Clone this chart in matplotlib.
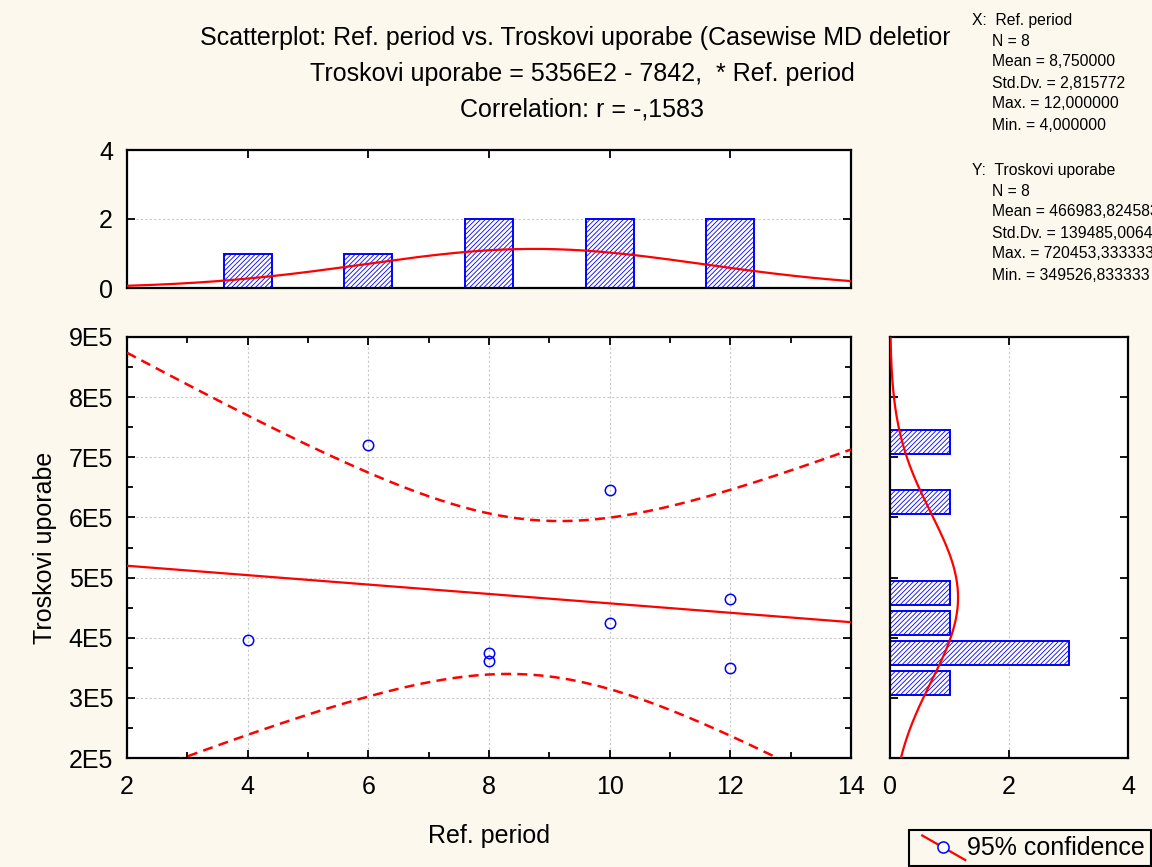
import numpy as np
import matplotlib
matplotlib.use("Agg")
import matplotlib.pyplot as plt
from matplotlib.ticker import FuncFormatter, MultipleLocator
from matplotlib.lines import Line2D
from matplotlib.legend_handler import HandlerBase
from matplotlib.patches import Rectangle

plt.rcParams["font.family"] = ["Liberation Sans", "DejaVu Sans"]
plt.rcParams["hatch.linewidth"] = 0.6

# data
ref_period = [4, 6, 8, 8, 10, 10, 12, 12]
troskovi = [396000, 720453, 374000, 362000, 645000, 424000, 464000, 349527]

x_bin_edges = np.arange(3.5, 13.0, 1.0)
y_bin_edges = np.arange(300000, 800000, 50000)

title_lines = [
    "Scatterplot: Ref. period vs. Troskovi uporabe (Casewise MD deletion)",
    "Troskovi uporabe = 5356E2 - 7842,  * Ref. period",
    "Correlation: r = -,1583",
]
stats_x = ["X:  Ref. period", "N = 8", "Mean = 8,750000", "Std.Dv. = 2,815772",
           "Max. = 12,000000", "Min. = 4,000000"]
stats_y = ["Y:  Troskovi uporabe", "N = 8", "Mean = 466983,824583",
           "Std.Dv. = 139485,006421", "Max. = 720453,333333", "Min. = 349526,833333"]

T_975_DF6 = 2.446912

BG = "#FCF8EE"
BLUE = "#0000FF"
RED = "#FF0000"
W, H = 1152, 867
FS = 18

x = np.array(ref_period, dtype=float)
y = np.array(troskovi, dtype=float)
n = len(x)


def box(l, t, r, b):
    return [l / W, 1 - b / H, (r - l) / W, (b - t) / H]


def style_frame(a):
    for s in a.spines.values():
        s.set_linewidth(1.6)
    a.tick_params(which="both", direction="in", top=True, right=True,
                  width=1.3, labelsize=FS)
    a.tick_params(which="major", length=6)
    a.tick_params(which="minor", length=4)


fig = plt.figure(figsize=(W / 100, H / 100), dpi=100, facecolor=BG)

# ---- main scatter ----
ax = fig.add_axes(box(127, 337, 851, 758))
style_frame(ax)
ax.set_xlim(2, 14)
ax.set_ylim(200000, 900000)
ax.xaxis.set_major_locator(MultipleLocator(2))
ax.xaxis.set_minor_locator(MultipleLocator(1))
ax.yaxis.set_major_locator(MultipleLocator(100000))
ax.yaxis.set_minor_locator(MultipleLocator(50000))
ax.yaxis.set_major_formatter(FuncFormatter(lambda v, p: f"{v / 1e5:.0f}E5"))
ax.tick_params(axis="x", pad=12)
ax.tick_params(axis="y", pad=10)
ax.grid(True, which="major", color="#C8C8C8", linestyle=(0, (2, 2)), linewidth=0.8)
ax.set_axisbelow(True)

slope, intercept = np.polyfit(x, y, 1)
xs = np.linspace(2, 14, 200)
fit = intercept + slope * xs
resid = y - (intercept + slope * x)
s = np.sqrt(np.sum(resid ** 2) / (n - 2))
sxx = np.sum((x - x.mean()) ** 2)
half = T_975_DF6 * s * np.sqrt(1 / n + (xs - x.mean()) ** 2 / sxx)

ax.plot(xs, fit, color=RED, lw=1.6, zorder=3)
ax.plot(xs, fit + half, color=RED, lw=1.8, ls=(0, (4, 2.5)), zorder=3)
ax.plot(xs, fit - half, color=RED, lw=1.8, ls=(0, (4, 2.5)), zorder=3)
ax.plot(x, y, ls="none", marker="o", ms=7.5, mfc="none", mec=BLUE, mew=1.1, zorder=4)

ax.set_xlabel("Ref. period", fontsize=FS, labelpad=18)
ax.set_ylabel("Troskovi uporabe", fontsize=FS, labelpad=8)

# ---- top histogram (X) ----
axt = fig.add_axes(box(127, 150, 851, 288))
style_frame(axt)
cx, _ = np.histogram(x, bins=x_bin_edges)
xc = (x_bin_edges[:-1] + x_bin_edges[1:]) / 2
axt.bar(xc, cx, width=0.8, facecolor="white", edgecolor=BLUE, hatch="///////",
        linewidth=1.4, zorder=2)
axt.set_xlim(2, 14)
axt.set_ylim(0, 4)
axt.set_xticks([4, 6, 8, 10, 12])
axt.set_yticks([0, 2, 4])
axt.tick_params(axis="x", labelbottom=False)
axt.tick_params(axis="y", pad=10)
axt.grid(True, axis="y", color="#C8C8C8", linestyle=(0, (2, 2)), linewidth=0.8)
axt.set_axisbelow(True)
xn = np.linspace(2, 14, 200)
pdf_x = n * 1.0 * np.exp(-0.5 * ((xn - x.mean()) / x.std(ddof=1)) ** 2) / (x.std(ddof=1) * np.sqrt(2 * np.pi))
axt.plot(xn, pdf_x, color=RED, lw=1.6, zorder=3)

# ---- right histogram (Y) ----
axr = fig.add_axes(box(890, 337, 1128, 758))
style_frame(axr)
cy, _ = np.histogram(y, bins=y_bin_edges)
yc = (y_bin_edges[:-1] + y_bin_edges[1:]) / 2
axr.barh(yc, cy, height=40000, facecolor="white", edgecolor=BLUE, hatch="///////",
         linewidth=1.4, zorder=2)
axr.set_ylim(200000, 900000)
axr.set_xlim(0, 4)
axr.set_xticks([0, 2, 4])
axr.set_yticks(np.arange(300000, 900000, 100000))
axr.tick_params(axis="y", labelleft=False)
axr.tick_params(axis="x", pad=12)
axr.grid(True, axis="x", color="#C8C8C8", linestyle=(0, (2, 2)), linewidth=0.8)
axr.set_axisbelow(True)
yn = np.linspace(200000, 900000, 300)
bw = y_bin_edges[1] - y_bin_edges[0]
pdf_y = n * bw * np.exp(-0.5 * ((yn - y.mean()) / y.std(ddof=1)) ** 2) / (y.std(ddof=1) * np.sqrt(2 * np.pi))
axr.plot(pdf_y, yn, color=RED, lw=1.6, zorder=3)

# ---- titles ----
for i, t in enumerate(title_lines):
    fig.text(582 / W, 1 - (38 + 36 * i) / H, t, ha="center", va="center",
             fontsize=FS, zorder=1)

# cream panel that hides the end of the first title line
fig.add_artist(Rectangle((950 / W, 1 - 300 / H), 210 / W, 300 / H,
                         transform=fig.transFigure, facecolor=BG,
                         edgecolor="none", zorder=2))
for j, block in enumerate([stats_x, stats_y]):
    top = 20 + j * 150
    for i, t in enumerate(block):
        xx = 972 if i == 0 else 992
        fig.text(xx / W, 1 - (top + 21 * i) / H, t, ha="left", va="center",
                 fontsize=11.3, zorder=3)


# ---- legend ----
class DiagHandler(HandlerBase):
    def create_artists(self, legend, orig_handle, xdescent, ydescent,
                       width, height, fontsize, trans):
        x0, x1 = -xdescent + 0.14 * width, -xdescent + width
        y0, y1 = -ydescent - 0.3 * height, -ydescent + 1.1 * height
        ln = Line2D([x0, x1], [y1, y0], color=RED, lw=1.6, transform=trans)
        mk = Line2D([x0 + 0.48 * (x1 - x0)], [y1 - 0.48 * (y1 - y0)], ls="none",
                    marker="o", ms=8, mfc="white", mec=BLUE, mew=1.1,
                    transform=trans)
        return [ln, mk]


proxy = Line2D([], [])
leg = fig.legend([proxy], ["95% confidence"], handler_map={Line2D: DiagHandler()},
                 loc="lower left", bbox_to_anchor=(909 / W, 1 - 866 / H),
                 fontsize=FS, fancybox=False, edgecolor="black", facecolor=BG,
                 framealpha=1, borderaxespad=0, handlelength=2.0,
                 handletextpad=0.08, borderpad=0.25)
leg.get_frame().set_linewidth(1.5)

fig.savefig("out.png", dpi=100, facecolor=BG)
